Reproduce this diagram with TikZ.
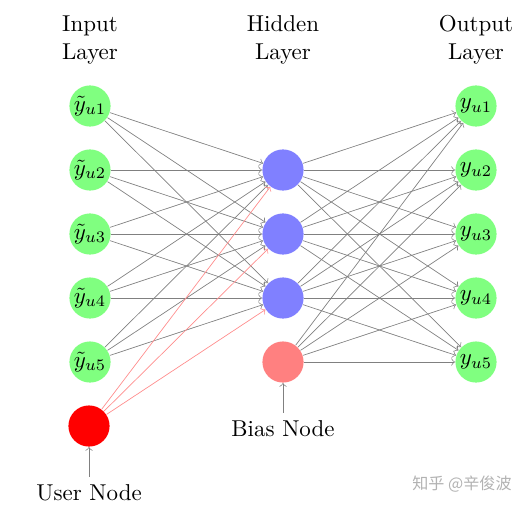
\documentclass[tikz,border=0pt]{standalone}
\usepackage{fontspec}
\newfontfamily\cjkfont{Noto Sans CJK SC}
\usepackage{xcolor}
\usetikzlibrary{arrows,positioning}

\tikzset{
  neuron/.style={circle, minimum size=0.63cm, inner sep=0pt},
  inneuron/.style={neuron, fill=green!50},
  hidneuron/.style={neuron, fill=blue!50},
  biasneuron/.style={neuron, fill=red!50},
  userneuron/.style={neuron, fill=red},
  synapse/.style={->, draw=black!50, line width=0.3pt},
  usersynapse/.style={->, draw=red!45, line width=0.3pt},
  layerlabel/.style={align=center}
}

\begin{document}
\begin{tikzpicture}[x=0.0153cm, y=-0.0153cm]
    \useasboundingbox (0,0) rectangle (531,504);

    % layer titles
    \node[layerlabel] (inlabel) at (90,40) {Input\\Layer};
    \node[layerlabel] (hidlabel) at (283,40) {Hidden\\Layer};
    \node[layerlabel] (outlabel) at (476,40) {Output\\Layer};

    % neurons
    \foreach \i/\yy in {1/106,2/170,3/234,4/298,5/362} {
        \node[inneuron] (I-\i) at (90,\yy) {$\tilde{y}_{u\i}$};
        \node[inneuron] (O-\i) at (476,\yy) {$y_{u\i}$};
    }
    \foreach \j/\yy in {1/170,2/234,3/298}
        \node[hidneuron] (H-\j) at (283,\yy) {};
    \node[biasneuron] (B) at (283,362) {};
    \node[userneuron] (U) at (89,426) {};

    % connections
    \foreach \i in {1,...,5}
        \foreach \j in {1,2,3}
            \draw[synapse] (I-\i) -- (H-\j);
    \foreach \j in {1,2,3}
        \draw[usersynapse] (U) -- (H-\j);
    \foreach \h in {H-1,H-2,H-3,B}
        \foreach \k in {1,...,5}
            \draw[synapse] (\h) -- (O-\k);

    % annotations
    \node (biaslabel) at (283,429) {Bias Node};
    \draw[synapse] (biaslabel) -- (B);
    \node (userlabel) at (89,493) {User Node};
    \draw[synapse] (userlabel) -- (U);

    \node[text=black!30, font=\cjkfont\fontsize{7}{8}\selectfont] (mark) at (462,484) {知乎 @辛俊波};
\end{tikzpicture}
\end{document}
